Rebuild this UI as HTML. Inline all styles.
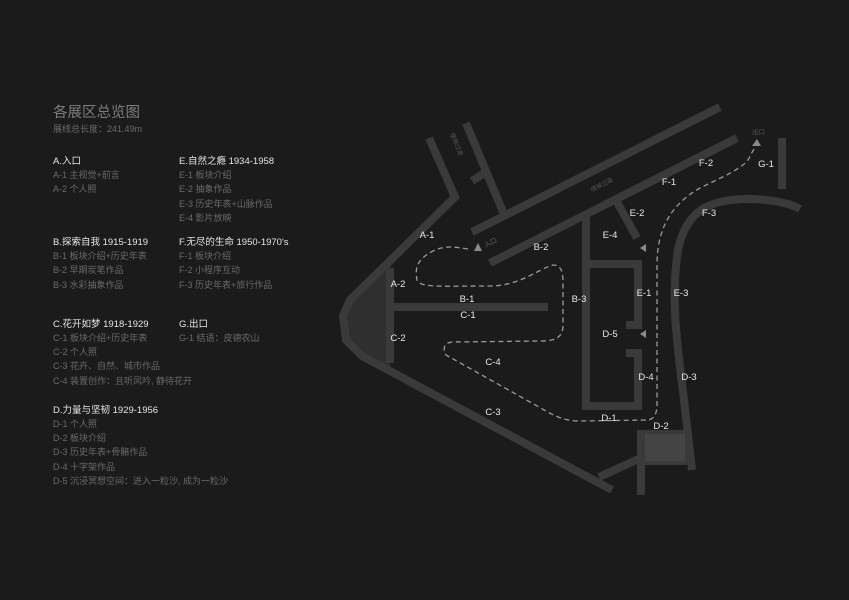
<!DOCTYPE html>
<html><head><meta charset="utf-8"><style>
html,body{margin:0;padding:0;background:#1b1b1b;}
svg{display:block;}
text{font-family:"Liberation Sans","Noto Sans CJK SC",sans-serif;}
.h{fill:#e6e6e6;font-size:9.5px;}
.i{fill:#6a6a6a;font-size:9px;}
.l{fill:#e8e8e8;font-size:9.5px;text-anchor:middle;}
.w{stroke:#3a3a3a;stroke-width:8;fill:none;stroke-linecap:butt;stroke-linejoin:miter;}
</style></head><body>
<svg width="849" height="600" viewBox="0 0 849 600">
<rect width="849" height="600" fill="#1b1b1b"/>
<text x="53" y="117" fill="#7d7d7d" font-size="14.5">各展区总览图</text>
<text x="53" y="132" fill="#6a6a6a" font-size="9">展线总长度：241.49m</text>

<text class="h" x="53" y="164">A.入口</text>
<text class="i" x="53" y="178">A-1 主视觉+前言</text>
<text class="i" x="53" y="192">A-2 个人照</text>

<text class="h" x="179" y="164">E.自然之瘾 1934-1958</text>
<text class="i" x="179" y="178">E-1 板块介绍</text>
<text class="i" x="179" y="192">E-2 抽象作品</text>
<text class="i" x="179" y="207">E-3 历史年表+山脉作品</text>
<text class="i" x="179" y="221">E-4 影片放映</text>

<text class="h" x="53" y="245">B.探索自我 1915-1919</text>
<text class="i" x="53" y="259">B-1 板块介绍+历史年表</text>
<text class="i" x="53" y="273">B-2 早期炭笔作品</text>
<text class="i" x="53" y="288">B-3 水彩抽象作品</text>

<text class="h" x="179" y="245">F.无尽的生命 1950-1970's</text>
<text class="i" x="179" y="259">F-1 板块介绍</text>
<text class="i" x="179" y="273">F-2 小程序互动</text>
<text class="i" x="179" y="288">F-3 历史年表+旅行作品</text>

<text class="h" x="53" y="327">C.花开如梦 1918-1929</text>
<text class="i" x="53" y="341">C-1 板块介绍+历史年表</text>
<text class="i" x="53" y="355">C-2 个人照</text>
<text class="i" x="53" y="369">C-3 花卉、自然、城市作品</text>
<text class="i" x="53" y="384">C-4 装置创作：且听风吟, 静待花开</text>

<text class="h" x="179" y="327">G.出口</text>
<text class="i" x="179" y="341">G-1 结语：皮德农山</text>

<text class="h" x="53" y="413">D.力量与坚韧 1929-1956</text>
<text class="i" x="53" y="427">D-1 个人照</text>
<text class="i" x="53" y="441">D-2 板块介绍</text>
<text class="i" x="53" y="455">D-3 历史年表+骨骼作品</text>
<text class="i" x="53" y="470">D-4 十字架作品</text>
<text class="i" x="53" y="484">D-5 沉浸冥想空间：进入一粒沙, 成为一粒沙</text>

<!-- map -->
<polygon points="397,258 352,300 341,318 344,343 362,358 390,372 390,268" fill="#2f2f2f"/>
<polyline class="w" points="429,138 455,197 350,300 343,316 346,340 362,356 612,490"/>
<line class="w" x1="390" y1="268" x2="390" y2="363"/>
<polyline class="w" points="466,123 503,212"/>
<line class="w" x1="486" y1="172" x2="472" y2="181"/>
<line class="w" x1="472" y1="232" x2="720" y2="107"/>
<line class="w" x1="490" y1="263" x2="737" y2="138"/>
<line class="w" x1="390" y1="307" x2="548" y2="307"/>
<polyline class="w" points="586,215 586,406 642,406"/>
<polyline class="w" points="586,264 638,264 638,325 626,325"/>
<polyline class="w" points="626,353 638,353 638,406"/>
<line class="w" x1="617" y1="202" x2="637" y2="238"/>
<path class="w" d="M692,470 L684,400 C678,350 670,300 678,250 C686,210 710,200 745,199 C770,199 790,203 800,209"/>
<line class="w" x1="782" y1="138" x2="782" y2="189"/>
<rect x="637" y="430" width="50" height="35" fill="#3a3a3a"/>
<rect x="645" y="434" width="40" height="27" fill="#444"/>
<line class="w" x1="641" y1="430" x2="641" y2="495"/>
<line class="w" x1="599" y1="477" x2="643" y2="457"/>

<path d="M468,249 C455,247 445,245 433,251 C420,258 414,265 417,280 C420,288 440,286 490,286 C520,286 540,268 553,265 C563,265 563,275 563,285 L563,325 C563,338 555,341 540,341 L452,342 C443,343 443,350 446,355 L530,402 C550,413 560,421 580,421 L648,420 C655,419 657,412 657,405 L657,265 C657,230 670,205 700,188 C720,178 740,170 748,160 L756,145" fill="none" stroke="#9a9a9a" stroke-width="1.3" stroke-dasharray="5,3.5"/>
<polygon points="478,243 474,251 482,251" fill="#8a8a8a"/>
<polygon points="640,248 646,244 646,252" fill="#8a8a8a"/>
<polygon points="640,334 646,330 646,338" fill="#8a8a8a"/>
<polygon points="757,139 752,146 761,146" fill="#8a8a8a"/>

<text x="484" y="246" fill="#666" font-size="6.5" transform="rotate(-27 488 243)">入口</text>
<text x="752" y="134" fill="#555" font-size="6.5">出口</text>
<text x="0" y="0" fill="#555" font-size="6" transform="translate(450,134) rotate(67)">楼梯过道</text>
<text x="0" y="0" fill="#555" font-size="6" transform="translate(592,192) rotate(-27)">楼梯过道</text>

<text class="l" x="427" y="238">A-1</text>
<text class="l" x="541" y="250">B-2</text>
<text class="l" x="610" y="238">E-4</text>
<text class="l" x="637" y="216">E-2</text>
<text class="l" x="669" y="185">F-1</text>
<text class="l" x="706" y="166">F-2</text>
<text class="l" x="766" y="167">G-1</text>
<text class="l" x="709" y="216">F-3</text>
<text class="l" x="398" y="287">A-2</text>
<text class="l" x="467" y="302">B-1</text>
<text class="l" x="579" y="302">B-3</text>
<text class="l" x="644" y="296">E-1</text>
<text class="l" x="681" y="296">E-3</text>
<text class="l" x="468" y="318">C-1</text>
<text class="l" x="398" y="341">C-2</text>
<text class="l" x="610" y="337">D-5</text>
<text class="l" x="493" y="365">C-4</text>
<text class="l" x="646" y="380">D-4</text>
<text class="l" x="689" y="380">D-3</text>
<text class="l" x="493" y="415">C-3</text>
<text class="l" x="609" y="421">D-1</text>
<text class="l" x="661" y="429">D-2</text>
</svg>
</body></html>
